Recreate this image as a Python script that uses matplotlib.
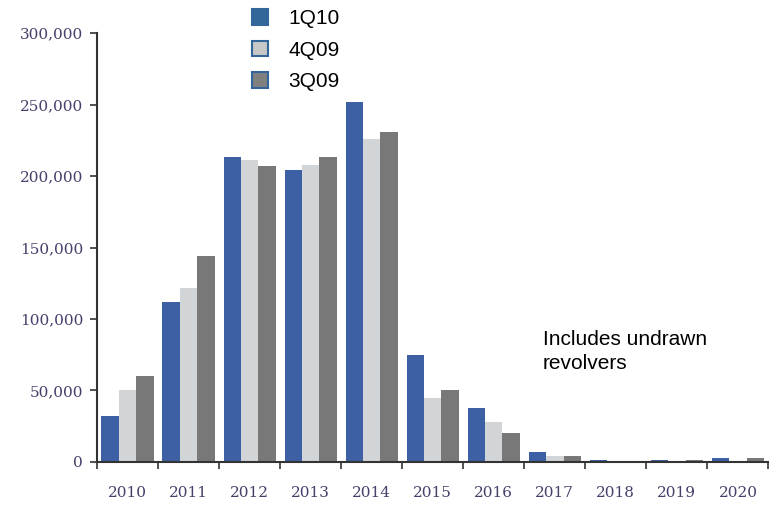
import matplotlib
matplotlib.use("Agg")
import matplotlib.pyplot as plt
import numpy as np
from matplotlib.patches import Patch

years = ["2010", "2011", "2012", "2013", "2014", "2015", "2016", "2017", "2018", "2019", "2020"]
q1_10 = [32000, 112000, 213000, 204000, 252000, 75000, 38000, 7000, 1500, 1500, 3000]
q4_09 = [50000, 122000, 211000, 208000, 226000, 45000, 28000, 4000, 300, 300, 300]
q3_09 = [60000, 144000, 207000, 213000, 231000, 50000, 20000, 4000, 300, 1500, 3000]
series_names = ["1Q10", "4Q09", "3Q09"]
yticks = [0, 50000, 100000, 150000, 200000, 250000, 300000]

colors = ["#3d5fa3", "#d2d5d8", "#787878"]
legend_faces = ["#336699", "#c8c8c8", "#808080"]

fig = plt.figure(figsize=(7.7, 5.07), dpi=100)
ax = fig.add_axes([0.126, 0.0888, 0.872, 0.846])

x = np.arange(len(years))
w = 0.285
for k, vals in enumerate([q1_10, q4_09, q3_09]):
    ax.bar(x + (k - 1) * w, vals, width=w, color=colors[k], edgecolor="none", linewidth=0)

ax.set_xlim(-0.5, len(years) - 0.5)
ax.set_ylim(0, 300000)
for s in ["top", "right"]:
    ax.spines[s].set_visible(False)
ax.spines["left"].set_color("#333333")
ax.spines["bottom"].set_color("#333333")
ax.spines["left"].set_linewidth(1.5)
ax.spines["bottom"].set_linewidth(1.5)

tick_font = dict(family=["DejaVu Serif"], size=11, color="#45406a")
ax.set_yticks(yticks)
ax.set_yticklabels([f"{v:,}" for v in yticks], **tick_font)
ax.tick_params(axis="y", direction="out", length=5, width=1.2, color="#333333", pad=5)

ax.set_xticks(np.arange(len(years) + 1) - 0.5)
ax.set_xticklabels([])
ax.tick_params(axis="x", which="major", direction="out", length=5, width=1.2, color="#333333")
ax.set_xticks(x, minor=True)
ax.set_xticklabels(years, minor=True, **tick_font)
ax.tick_params(axis="x", which="minor", length=0, pad=17)

handles = [Patch(facecolor=legend_faces[i], edgecolor="#336699", linewidth=1.5) for i in range(3)]
fig.legend(handles, series_names, loc="upper left", bbox_to_anchor=(252 / 770, 1 - 9 / 507),
           frameon=False, prop=dict(family="Liberation Sans", size=15),
           handlelength=0.77, handleheight=0.77, handletextpad=0.96, labelspacing=0.6,
           borderpad=0, borderaxespad=0)

fig.text(543 / 770, 1 - 330 / 507, "Includes undrawn\nrevolvers", family="Liberation Sans",
         size=15, va="top", ha="left", linespacing=1.35)

fig.savefig("out.png", dpi=100)
